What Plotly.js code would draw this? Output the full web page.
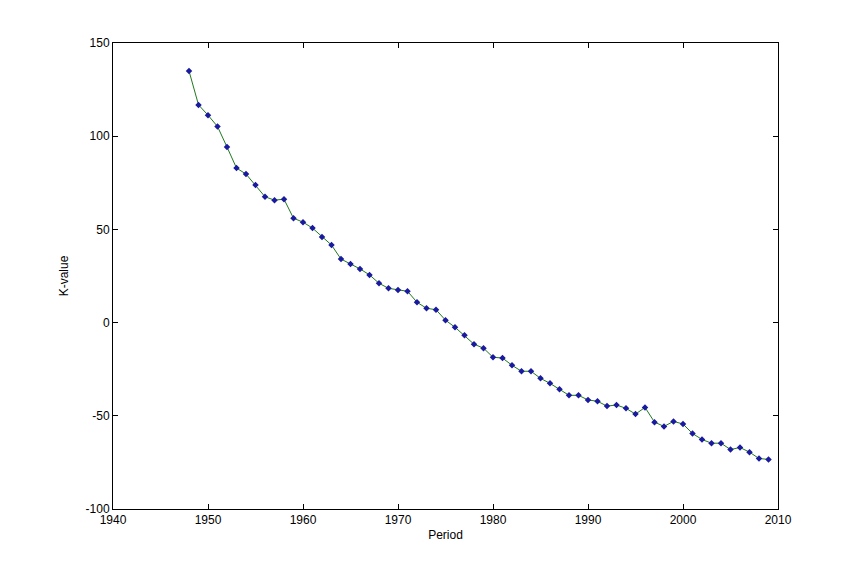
<!DOCTYPE html>
<html>
<head>
<meta charset="utf-8">
<script src="https://cdn.plot.ly/plotly-3.0.1.min.js"></script>
<style>html,body{margin:0;padding:0;background:#fff;}#chart{width:861px;height:572px;}</style>
</head>
<body>
<div id="chart"></div>
<script>
const years = [1948,1949,1950,1951,1952,1953,1954,1955,1956,1957,1958,1959,1960,1961,1962,1963,1964,1965,1966,1967,1968,1969,1970,1971,1972,1973,1974,1975,1976,1977,1978,1979,1980,1981,1982,1983,1984,1985,1986,1987,1988,1989,1990,1991,1992,1993,1994,1995,1996,1997,1998,1999,2000,2001,2002,2003,2004,2005,2006,2007,2008,2009];
const kValues = [135,116.8,111.3,105.2,94.2,82.9,79.7,73.8,67.5,65.7,66.2,56,53.9,50.7,45.9,41.6,34.1,31.4,28.8,25.6,21.1,18.4,17.5,16.8,10.9,7.7,6.9,1.3,-2.5,-6.8,-11.6,-13.7,-18.6,-19,-22.9,-26.1,-26.1,-29.9,-32.6,-35.8,-39,-39,-41.5,-42.2,-44.8,-44.2,-46,-49.1,-45.5,-53.4,-55.7,-53,-54.4,-59.5,-62.7,-64.7,-64.7,-68.1,-67,-69.5,-72.9,-73.4];

const xTicks = [1940,1950,1960,1970,1980,1990,2000,2010];
const yTicks = [-100,-50,0,50,100,150];

const trace = {
  x: years, y: kValues, type: 'scatter', mode: 'lines+markers',
  line: {color: '#1f7a1f', width: 1},
  marker: {symbol: 'diamond', size: 5, color: '#1a1aa0', line: {width: 0}},
  hoverinfo: 'x+y'
};

const axisCommon = {
  showgrid: false, zeroline: false, showline: true, linecolor: '#000', linewidth: 1,
  mirror: 'ticks', ticks: 'inside', ticklen: 5, tickcolor: '#000', tickwidth: 1,
  tickfont: {family: 'Arial, Liberation Sans, sans-serif', size: 12, color: '#000'}
};

const layout = {
  width: 861, height: 572,
  paper_bgcolor: '#fff', plot_bgcolor: '#fff',
  margin: {l: 113, r: 83, t: 43, b: 63},
  showlegend: false,
  xaxis: Object.assign({}, axisCommon, {
    range: [1940, 2010], tickvals: xTicks, ticktext: xTicks.map(String),
    title: {text: 'Period', font: {family: 'Arial, Liberation Sans, sans-serif', size: 12, color: '#000'}, standoff: 4}
  }),
  yaxis: Object.assign({}, axisCommon, {
    range: [-100, 150], tickvals: yTicks, ticktext: yTicks.map(String),
    title: {text: 'K-value', font: {family: 'Arial, Liberation Sans, sans-serif', size: 12, color: '#000'}, standoff: 14}
  })
};

Plotly.newPlot('chart', [trace], layout, {displayModeBar: false, staticPlot: true});
</script>
</body>
</html>
